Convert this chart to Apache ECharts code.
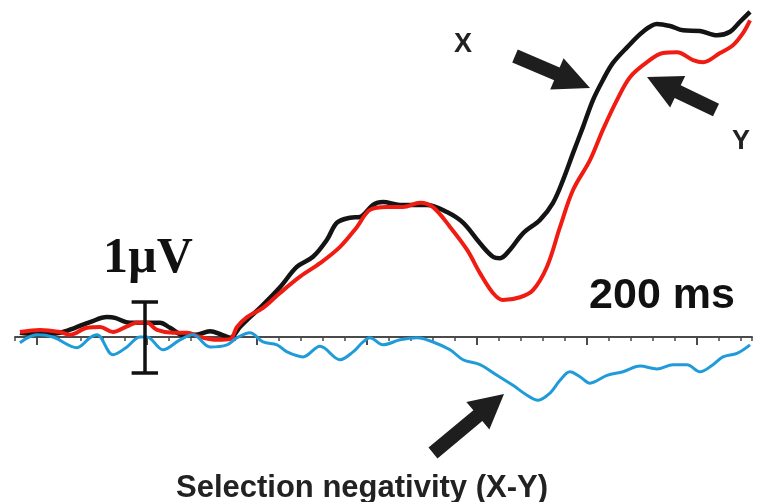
<!DOCTYPE html>
<html>
<head>
<meta charset="utf-8">
<script src="https://cdn.jsdelivr.net/npm/echarts@6/dist/echarts.min.js"></script>
<style>html,body{margin:0;padding:0;background:#fff}#c{width:760px;height:502px}</style>
</head>
<body>
<div id="c"></div>
<script>
// time (ms) and amplitude (µV)
var timeX = [-115.5,-97.3,-79.1,-65.5,-51.8,-36.4,-29.1,-15.5,-1.8,11.8,20.9,32.7,43.6,57.3,68.2,75.5,84.5,93.6,102.7,120.9,136.4,150.9,163.6,172.7,184.5,193.6,205.5,214.5,230,254.5,272.7,287.3,302.7,314.5,320.9,330,341.8,357.3,369.1,378.2,387.3,396.4,405.5,414.5,423.6,436.4,450.9,463.6,475.5,487.3,502.7,518.2,530,539.1,548.2];
var ampX  = [0.06,0.04,0.06,0.13,0.21,0.28,0.27,0.20,0.20,0.20,0.13,0.03,0.03,0.08,0.03,-0.01,0.14,0.28,0.41,0.70,0.99,1.13,1.37,1.61,1.68,1.69,1.86,1.90,1.86,1.86,1.76,1.61,1.32,1.13,1.11,1.23,1.46,1.65,1.89,2.21,2.59,2.96,3.34,3.62,3.86,4.08,4.30,4.41,4.38,4.32,4.31,4.25,4.30,4.44,4.58];

var timeY = [-115.5,-97.3,-79.1,-70,-54.5,-42.7,-30.9,-18.2,-9.1,0,9.1,23.6,36.4,48.2,63.6,75.5,81.8,90.9,105.5,120.9,139.1,157.3,175.5,190.9,202.7,218.2,232.7,248.2,260,275.5,290.9,302.7,314.5,323.6,339.1,350.9,363.6,375.5,387.3,402.7,414.5,427.3,439.1,454.5,469.1,481.8,496.4,505.5,520.9,532.7,541.8,548.2];
var ampY  = [0.07,0.10,0.07,0.03,0.13,0.14,0.07,0.15,0.20,0.20,0.10,0.06,0.06,0,-0.04,-0.03,0.14,0.28,0.41,0.62,0.85,1.04,1.27,1.55,1.79,1.83,1.83,1.89,1.83,1.55,1.23,0.90,0.62,0.52,0.56,0.66,0.99,1.55,2.07,2.49,2.92,3.34,3.66,3.87,4.00,4.01,3.90,3.87,4.00,4.11,4.28,4.46];

var timeD = [-115.5,-100,-85.5,-63.6,-51.8,-45.5,-30.9,-18.2,-6.4,0,14.5,30,41.8,57.3,72.7,81.8,93.6,105.5,118.2,127.3,141.8,157.3,175.5,187.3,196.4,202.7,214.5,230,245.5,260,275.5,287.3,302.7,318.2,332.7,345.5,355.5,366.4,375.5,384.5,393.6,402.7,418.2,432.7,448.2,463.6,478.2,490.9,502.7,514.5,523.6,536.4,548.2];
var ampD  = [-0.08,0.03,0,-0.15,-0.01,0.03,-0.25,-0.14,0,0,-0.18,-0.04,0.03,-0.14,-0.11,-0.01,0.06,-0.07,-0.11,-0.21,-0.28,-0.13,-0.32,-0.21,-0.07,-0.01,-0.11,-0.04,-0.01,-0.07,-0.18,-0.32,-0.39,-0.54,-0.68,-0.82,-0.89,-0.79,-0.61,-0.49,-0.56,-0.65,-0.54,-0.49,-0.41,-0.45,-0.39,-0.39,-0.49,-0.39,-0.28,-0.23,-0.11];

var longTicks = [-100, 0, 100, 200, 300, 400, 500];

function pairs(t, v) { return t.map(function (x, i) { return [x, v[i]]; }); }

function arrow(tail, tip, sw, hw, hl) {
  var dx = tip[0] - tail[0], dy = tip[1] - tail[1];
  var len = Math.sqrt(dx * dx + dy * dy);
  var ux = dx / len, uy = dy / len, nx = -uy, ny = ux;
  var bx = tip[0] - ux * hl, by = tip[1] - uy * hl;
  return [
    [tail[0] + nx * sw / 2, tail[1] + ny * sw / 2],
    [bx + nx * sw / 2, by + ny * sw / 2],
    [bx + nx * hw / 2, by + ny * hw / 2],
    [tip[0], tip[1]],
    [bx - nx * hw / 2, by - ny * hw / 2],
    [bx - nx * sw / 2, by - ny * sw / 2],
    [tail[0] - nx * sw / 2, tail[1] - ny * sw / 2]
  ];
}

var chart = echarts.init(document.getElementById('c'), null, { renderer: 'canvas' });
var PX = 71, ZERO = 337, YMAX = 4.7, YMIN = -2.3;
var gridBox = { left: 15, right: 8, top: ZERO - YMAX * PX, height: (YMAX - YMIN) * PX };
var option = {
  animation: false,
  backgroundColor: '#fff',
  grid: [Object.assign({}, gridBox), Object.assign({}, gridBox)],
  xAxis: [{
    type: 'value', gridIndex: 0, min: -120, max: 550, interval: 20,
    axisLine: { onZero: true, lineStyle: { color: '#4a4a4a', width: 2 } },
    axisTick: { show: true, length: 4, lineStyle: { color: '#4a4a4a', width: 1.5 } },
    axisLabel: { show: false }, splitLine: { show: false }
  }, {
    type: 'value', gridIndex: 1, min: -120, max: 550,
    axisLine: { show: true, onZero: true, lineStyle: { color: '#4a4a4a', width: 0.01, opacity: 0 } },
    axisTick: { show: true, customValues: longTicks, length: 8, lineStyle: { color: '#4a4a4a', width: 2, opacity: 1 } },
    axisLabel: { show: false }, splitLine: { show: false }
  }],
  yAxis: [
    { type: 'value', gridIndex: 0, min: YMIN, max: YMAX, show: false, splitLine: { show: false } },
    { type: 'value', gridIndex: 1, min: YMIN, max: YMAX, show: false, splitLine: { show: false } }
  ],
  series: [
    { type: 'line', data: pairs(timeX, ampX), smooth: 0.35, symbol: 'none', z: 3,
      lineStyle: { color: '#141414', width: 4.5 } },
    { type: 'line', data: pairs(timeY, ampY), smooth: 0.35, symbol: 'none', z: 4,
      lineStyle: { color: '#f01c12', width: 4 } },
    { type: 'line', data: pairs(timeD, ampD), smooth: 0.35, symbol: 'none', z: 5,
      lineStyle: { color: '#1f9bd9', width: 3 },
      markLine: {
        silent: true, symbol: 'none', z: 10, label: { show: false },
        lineStyle: { color: '#111', width: 3.5, type: 'solid' },
        data: [
          [{ coord: [-2, 0.5] }, { coord: [-2, -0.5] }],
          [{ coord: [-14, 0.5] }, { coord: [10, 0.5] }],
          [{ coord: [-14, -0.5] }, { coord: [10, -0.5] }]
        ]
      }
    }
  ],
  graphic: [
    { type: 'polygon', shape: { points: arrow([515, 56], [590, 88], 14, 34, 36) }, style: { fill: '#1e1e1e' }, z: 20 },
    { type: 'polygon', shape: { points: arrow([716, 110], [647, 77], 14, 35, 34) }, style: { fill: '#1e1e1e' }, z: 20 },
    { type: 'polygon', shape: { points: arrow([433, 453], [504, 394], 14, 36, 34) }, style: { fill: '#1e1e1e' }, z: 20 },
    { type: 'text', x: 463, y: 45, z: 20, style: { text: 'X', font: 'bold 27px "Liberation Sans", Arial, sans-serif', fill: '#222', align: 'center', verticalAlign: 'middle' } },
    { type: 'text', x: 741, y: 142, z: 20, style: { text: 'Y', font: 'bold 27px "Liberation Sans", Arial, sans-serif', fill: '#222', align: 'center', verticalAlign: 'middle' } },
    { type: 'text', x: 662, y: 296, z: 20, style: { text: '200 ms', font: 'bold 43px "Liberation Sans", Arial, sans-serif', fill: '#111', align: 'center', verticalAlign: 'middle' } },
    { type: 'text', x: 148, y: 259, z: 20, style: { text: '1µV', font: 'bold 50px "Liberation Serif", "DejaVu Serif", serif', fill: '#111', align: 'center', verticalAlign: 'middle' } },
    { type: 'text', x: 362, y: 488, z: 20, style: { text: 'Selection negativity (X-Y)', font: 'bold 31px "Liberation Sans", Arial, sans-serif', fill: '#222', align: 'center', verticalAlign: 'middle' } }
  ]
};
chart.setOption(option);
</script>
</body>
</html>
